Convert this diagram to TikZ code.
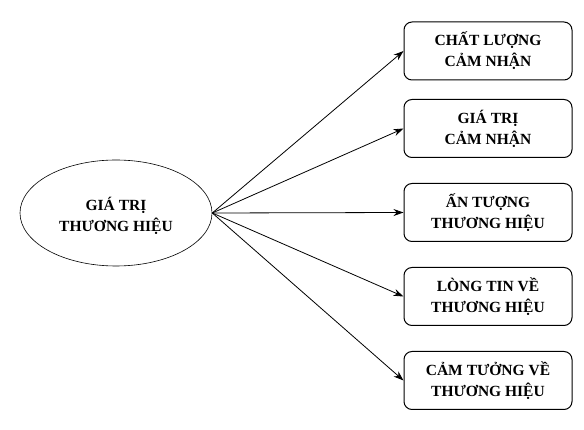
\documentclass[tikz,border=0pt]{standalone}
\usepackage{fontspec}
\setmainfont{Liberation Serif}
\usetikzlibrary{arrows.meta,shapes.geometric}
\begin{document}
\begin{tikzpicture}[x=1pt,y=-1pt,
  lbl/.style={font=\fontsize{15.5}{21}\selectfont\bfseries, align=center},
  catbox/.style={lbl, draw, line width=1pt, rounded corners=8pt, minimum width=168pt, minimum height=58pt, inner sep=0pt},
  hub/.style={lbl, draw, ellipse, line width=0.6pt, minimum width=192pt, minimum height=106pt, inner sep=0pt},
  link/.style={-{Stealth[length=10pt,width=7pt]}, line width=0.8pt}]
\useasboundingbox (0,0) rectangle (584,430);
\node[hub] (g) at (116,213) {};
\node[lbl] (gt) at (116,216) {GIÁ TRỊ\\THƯƠNG HIỆU};
\node[catbox] (b1) at (488,51) {CHẤT LƯỢNG\\CẢM NHẬN};
\node[catbox] (b2) at (488,128.5) {GIÁ TRỊ\\CẢM NHẬN};
\node[catbox] (b3) at (488,212.5) {ẤN TƯỢNG\\THƯƠNG HIỆU};
\node[catbox] (b4) at (488,296.5) {LÒNG TIN VỀ\\THƯƠNG HIỆU};
\node[catbox] (b5) at (488,380.5) {CẢM TƯỞNG VỀ\\THƯƠNG HIỆU};
\foreach \i in {1,...,5} \draw[link] (g.east) -- (b\i.west);
\end{tikzpicture}
\end{document}
